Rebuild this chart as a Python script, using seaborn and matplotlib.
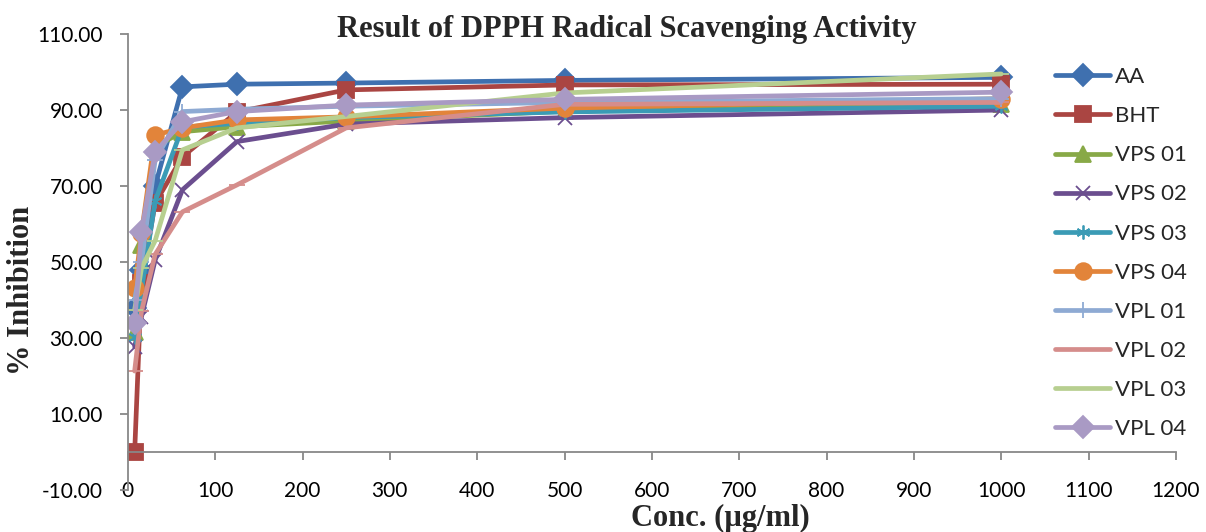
import matplotlib
matplotlib.use("Agg")
import matplotlib.pyplot as plt
import seaborn as sns

conc = [7.8125, 15.625, 31.25, 62.5, 125, 250, 500, 1000]

aa = [38.0, 48.0, 70.0, 96.1, 96.8, 97.1, 97.8, 98.6]
bht = [0.0, 44.5, 65.5, 77.7, 89.5, 95.3, 96.6, 96.8]
vps01 = [31.7, 54.5, 80.3, 84.3, 85.6, 87.1, 89.7, 91.5]
vps02 = [27.7, 35.6, 50.5, 69.0, 81.7, 86.3, 88.0, 90.0]
vps03 = [30.3, 42.6, 66.0, 85.5, 86.5, 88.0, 89.5, 91.0]
vps04 = [43.1, 57.6, 83.4, 85.3, 87.4, 88.2, 90.5, 93.0]
vpl01 = [40.0, 50.0, 76.8, 89.6, 90.2, 91.0, 92.0, 93.0]
vpl02 = [21.3, 37.0, 52.0, 63.2, 70.3, 85.3, 91.5, 92.0]
vpl03 = [37.4, 48.4, 55.6, 79.5, 85.3, 88.3, 94.5, 99.5]
vpl04 = [33.9, 57.9, 79.0, 86.9, 89.6, 91.3, 92.8, 94.7]

series_names = ["AA", "BHT", "VPS 01", "VPS 02", "VPS 03",
                "VPS 04", "VPL 01", "VPL 02", "VPL 03", "VPL 04"]
series_values = [aa, bht, vps01, vps02, vps03,
                 vps04, vpl01, vpl02, vpl03, vpl04]

colors = ["#3F70AF", "#AA4542", "#88A947", "#6B4E8F", "#3B9BB5",
          "#E2843A", "#8EAAD3", "#D58D8B", "#B7CF90", "#A99AC4"]
markers = ["D", "s", "^", "x", (6, 2, 0), "o", "+", "_", "_", "D"]
msizes = [11, 12, 11, 10, 10, 12, 11, 11, 11, 11]

sns.set_style("ticks")
plt.rcParams["font.family"] = ["Lato", "DejaVu Sans"]

fig = plt.figure(figsize=(12.06, 5.32), dpi=100)
ax = fig.add_axes([0.106, 0.079, 0.869, 0.857])

for name, vals, c, m, ms in zip(series_names, series_values,
                                colors, markers, msizes):
    sns.lineplot(
        x=conc,
        y=vals,
        ax=ax,
        color=c,
        linewidth=3.4,
        marker=m,
        markersize=ms,
        markeredgecolor=c,
        markeredgewidth=1.3,
        label=name
    )

ax.set_xlim(0, 1200)
ax.set_ylim(-10, 110)
ax.set_xticks(range(0, 1201, 100))
ax.set_yticks(range(-10, 111, 20))
ax.set_yticklabels([f"{v:.2f}" for v in range(-10, 111, 20)])

ax.spines["top"].set_visible(False)
ax.spines["right"].set_visible(False)
ax.spines["bottom"].set_position(("data", 0))
for s in ["left", "bottom"]:
    ax.spines[s].set_color("#888888")
    ax.spines[s].set_linewidth(1.3)

ax.tick_params(axis="both", colors="#888888", length=6, width=1.3,
               labelsize=15, labelcolor="black")
ax.tick_params(axis="x", pad=15)
ax.tick_params(axis="y", pad=12)

ax.set_xlabel("")
ax.set_ylabel("")

fig.text(0.52, 0.944, "Result of DPPH Radical Scavenging Activity",
         ha="center", va="center", fontsize=22, fontweight="bold",
         family="Liberation Serif")
fig.text(0.597, 0.026, "Conc. (\u00b5g/ml)", ha="center", va="center",
         fontsize=22, fontweight="bold", family="Liberation Serif")
fig.text(0.018, 0.455, "% Inhibition", ha="center", va="center",
         rotation=90, fontsize=22, fontweight="bold",
         family="Liberation Serif")

ax.legend(
    loc="upper left",
    bbox_to_anchor=(0.876, 0.947),
    frameon=False,
    fontsize=16,
    handlelength=2.5,
    labelspacing=0.86,
    handletextpad=0.2,
    borderaxespad=0
)

fig.savefig("out.png", dpi=100)
plt.close(fig)
